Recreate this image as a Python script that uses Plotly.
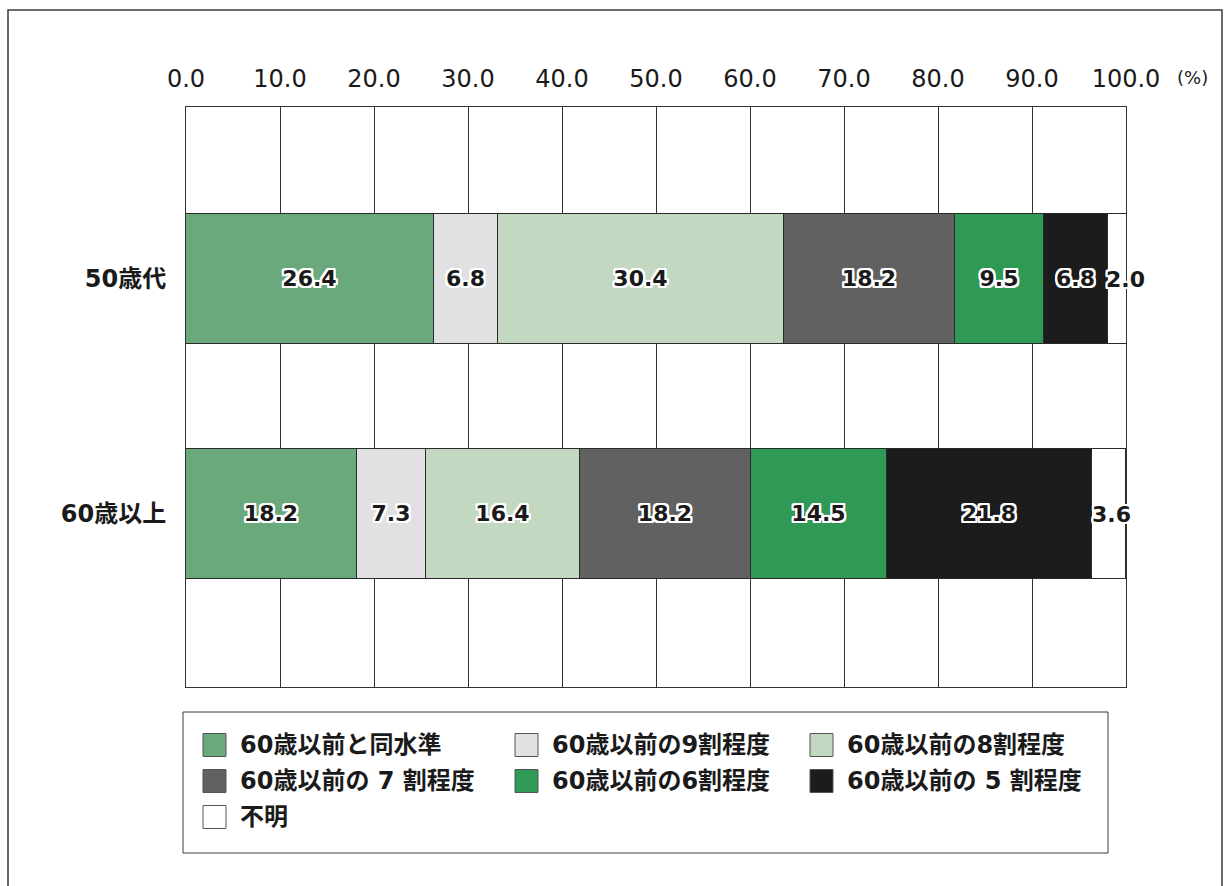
import plotly.graph_objects as go

# Age groups (rows) and response categories (stacked segments)
age_groups = ["50歳代", "60歳以上"]
categories = [
    "60歳以前と同水準",
    "60歳以前の9割程度",
    "60歳以前の8割程度",
    "60歳以前の 7 割程度",
    "60歳以前の6割程度",
    "60歳以前の 5 割程度",
    "不明",
]
# Share (%) of each category per age group, in category order
values_50s = [26.4, 6.8, 30.4, 18.2, 9.5, 6.8, 2.0]
values_60plus = [18.2, 7.3, 16.4, 18.2, 14.5, 21.8, 3.6]
colors = ["#6aa97c", "#e1e1e4", "#c3d8c0", "#616161", "#2f9a55", "#1c1c1c", "#ffffff"]

x_ticks = [0, 10, 20, 30, 40, 50, 60, 70, 80, 90, 100]
x_tick_labels = [f"{t:.1f}" for t in x_ticks]

W, H = 1225, 886
L, R, T, B = 186, 99, 107, 199
PW, PH = W - L - R, H - T - B

FONT = "DejaVu Sans, Noto Sans CJK JP, sans-serif"
TEXT = "#1a1a1a"
halo = ", ".join(
    f"{dx}px {dy}px 0 #ffffff"
    for dx, dy in [(2, 0), (-2, 0), (0, 2), (0, -2), (1, 1), (-1, -1), (1, -1), (-1, 1),
                   (2, 1), (2, -1), (-2, 1), (-2, -1), (1, 2), (-1, 2), (1, -2), (-1, -2),
                   (2, 2), (-2, 2), (2, -2), (-2, -2)]
)
label_font = dict(family=FONT, size=22, color=TEXT, shadow=halo, weight="bold")

fig = go.Figure()
last = len(categories) - 1
for i, name in enumerate(categories):
    vals = [values_50s[i], values_60plus[i]]
    fig.add_trace(go.Bar(
        y=age_groups,
        x=vals,
        name=name,
        orientation="h",
        width=0.553,
        marker=dict(color=colors[i], line=dict(color="#2a2a2a", width=1)),
        text=[f"{v:.1f}" for v in vals],
        textposition="none" if i == last else "inside",
        insidetextanchor="middle",
        textangle=0,
        constraintext="none",
        textfont=label_font,
        showlegend=False,
        cliponaxis=False,
    ))


def px_x(p):
    return (p - L) / PW


def px_y(p):
    return (H - B - p) / PH


shapes = []
annotations = []

# Labels for the narrow last segment, placed at its midpoint
for g, row in enumerate([values_50s, values_60plus]):
    start = sum(row[:last])
    annotations.append(dict(text=f"{row[last]:.1f}", x=start + row[last] / 2, y=age_groups[g],
                            xref="x", yref="y", showarrow=False, xshift=8 if g == 0 else 2,
                            font=label_font))

# Outer frame of the figure
shapes.append(dict(type="rect", xref="paper", yref="paper",
                   x0=px_x(8), x1=px_x(1222), y0=px_y(896), y1=px_y(10),
                   line=dict(color="#3a3a3a", width=1.5), fillcolor="rgba(0,0,0,0)",
                   layer="below"))

# Unit label next to the top axis
annotations.append(dict(text="(%)", xref="paper", yref="paper",
                        x=px_x(1175), y=px_y(77), xanchor="left", yanchor="middle",
                        showarrow=False, font=dict(family=FONT, size=18, color=TEXT)))

# Legend box with three columns of swatches
shapes.append(dict(type="rect", xref="paper", yref="paper",
                   x0=px_x(183), x1=px_x(1108), y0=px_y(853), y1=px_y(712),
                   line=dict(color="#3a3a3a", width=1), fillcolor="#ffffff"))
col_x = [203, 515, 810]
row_y = [745, 781, 817]
sw = 23
for i, name in enumerate(categories):
    c, r = i % 3, i // 3
    cx, cy = col_x[c], row_y[r]
    shapes.append(dict(type="rect", xref="paper", yref="paper",
                       x0=px_x(cx), x1=px_x(cx + sw),
                       y0=px_y(cy + sw / 2), y1=px_y(cy - sw / 2),
                       line=dict(color="#555555", width=1), fillcolor=colors[i]))
    annotations.append(dict(text=name, xref="paper", yref="paper",
                            x=px_x(cx + sw + 12), y=px_y(cy), xanchor="left", yanchor="middle",
                            showarrow=False,
                            font=dict(family=FONT, size=24, color=TEXT, weight="bold")))

fig.update_layout(
    width=W, height=H,
    margin=dict(l=L, r=R, t=T, b=B),
    paper_bgcolor="#ffffff",
    plot_bgcolor="#ffffff",
    barmode="stack",
    bargap=0,
    showlegend=False,
    shapes=shapes,
    annotations=annotations,
    xaxis=dict(
        side="top",
        range=[0, 100],
        tickvals=x_ticks,
        ticktext=x_tick_labels,
        showgrid=True,
        gridcolor="#333333",
        gridwidth=1,
        zeroline=False,
        showline=True,
        linecolor="#333333",
        linewidth=1,
        mirror=True,
        ticks="",
        ticklabelstandoff=9,
        tickfont=dict(family=FONT, size=24, color=TEXT),
    ),
    yaxis=dict(
        type="category",
        categoryorder="array",
        categoryarray=age_groups,
        range=[1.736, -0.732],
        showgrid=False,
        zeroline=False,
        showline=True,
        linecolor="#333333",
        linewidth=1,
        mirror=True,
        ticks="",
        ticklabelstandoff=14,
        tickfont=dict(family=FONT, size=24, color=TEXT, weight="bold"),
    ),
)

fig.write_html("out.html")
